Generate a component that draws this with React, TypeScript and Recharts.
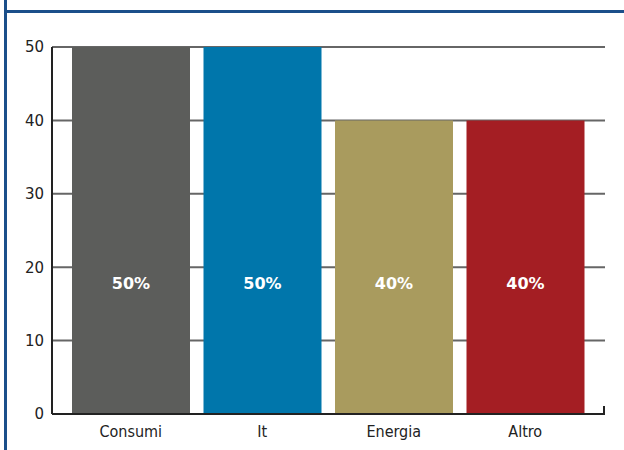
import { BarChart, Bar, XAxis, YAxis, CartesianGrid, Cell, LabelList } from 'recharts';

const categories = ['Consumi', 'It', 'Energia', 'Altro'];
const values = [50, 50, 40, 40];
const valueLabels = ['50%', '50%', '40%', '40%'];
const yTicks = [0, 10, 20, 30, 40, 50];
const COLORS = ['#5c5d5b', '#0076ab', '#a99b5e', '#a41e23'];

const data = categories.map((name, i) => ({ name, value: values[i], label: valueLabels[i] }));

const BORDER = '#1b4f8a';

// percentuali scritte a quota fissa dentro la barra, non al centro
const renderLabel = (props: any) => {
  const { x, y, width, height, index } = props;
  return (
    <text
      x={x + width / 2}
      y={y + height - 131}
      fill="#fff"
      textAnchor="middle"
      dominantBaseline="central"
      style={{ fontFamily: 'DejaVu Sans', fontSize: 16, fontWeight: 'bold' }}
    >
      {valueLabels[index]}
    </text>
  );
};

export default function App() {
  return (
    <div style={{ position: 'absolute', left: 0, top: 0, width: 624, height: 450, background: '#fff' }}>
      <div style={{ position: 'absolute', left: 4, top: 0, width: 3, height: 450, background: BORDER }} />
      <div style={{ position: 'absolute', left: 4, top: 10, width: 620, height: 3, background: BORDER }} />
      <BarChart
        width={624}
        height={450}
        data={data}
        margin={{ top: 47, right: 19, left: 0, bottom: 6 }}
      >
        <CartesianGrid vertical={false} stroke="#666" strokeWidth={2} />
        <XAxis
          dataKey="name"
          height={30}
          padding={{ left: 13, right: 14 }}
          tickLine={false}
          axisLine={{ stroke: '#222', strokeWidth: 2 }}
          tickMargin={6}
          tick={{ fill: '#222', fontSize: 16, fontFamily: 'DejaVu Sans Condensed' }}
          interval={0}
        />
        <YAxis
          width={52}
          domain={[0, 50]}
          ticks={yTicks}
          tickLine={false}
          axisLine={{ stroke: '#222', strokeWidth: 2 }}
          tick={{ fill: '#222', fontSize: 15, fontFamily: 'DejaVu Sans' }}
        />
        <Bar dataKey="value" barSize={118} isAnimationActive={false}>
          {data.map((_, index) => (
            <Cell key={`cell-${index}`} fill={COLORS[index]} />
          ))}
          <LabelList dataKey="label" content={renderLabel} />
        </Bar>
      </BarChart>
      <div style={{ position: 'absolute', left: 603, top: 406, width: 2, height: 9, background: '#222' }} />
    </div>
  );
}
